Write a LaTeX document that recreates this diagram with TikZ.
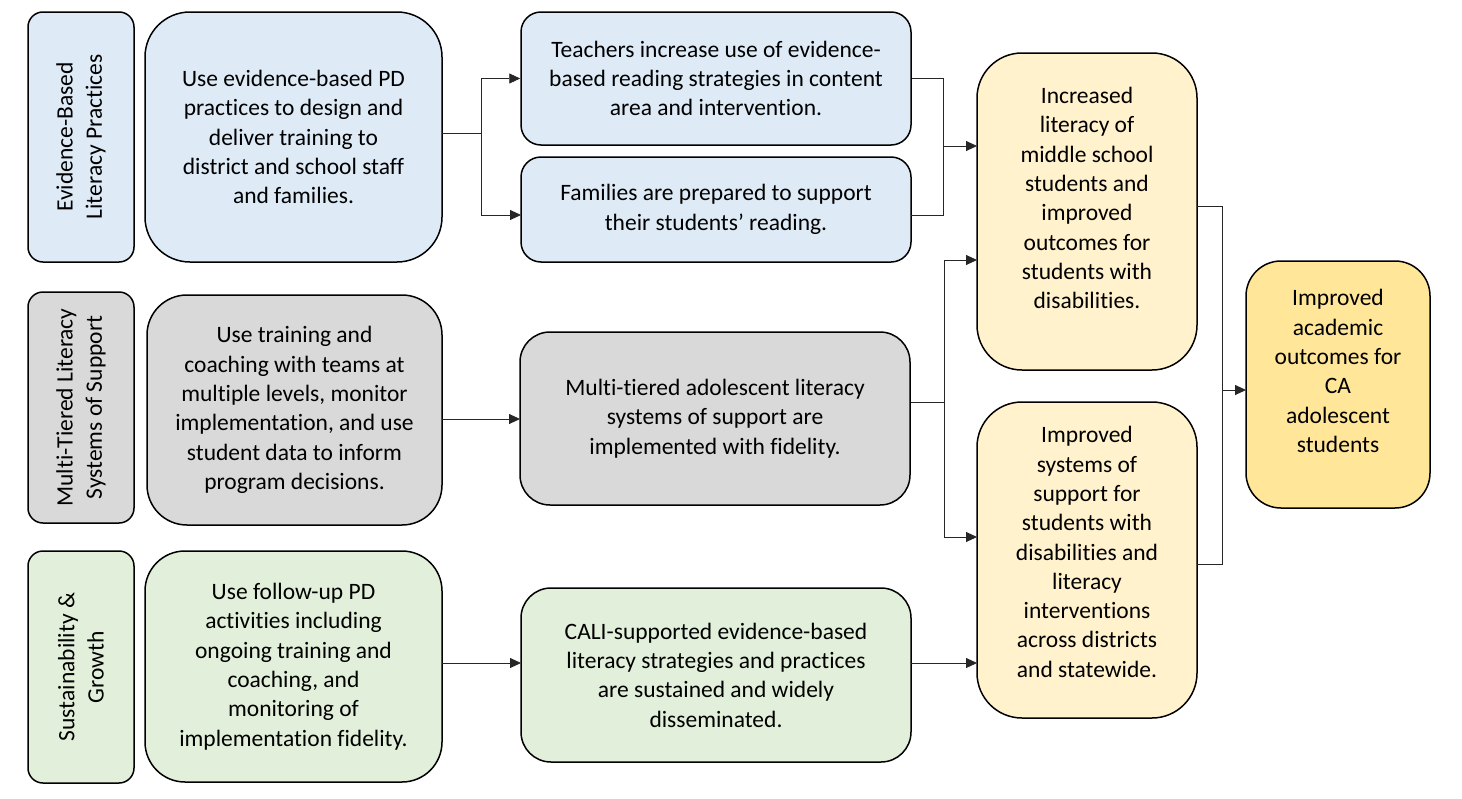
\documentclass[tikz,border=0pt]{standalone}
\usepackage{fontspec}
\setmainfont{Carlito}[Ligatures=NoCommon]
\usetikzlibrary{arrows.meta}
\definecolor{cblue}{HTML}{DEEBF7}
\definecolor{cgrey}{HTML}{D9D9D9}
\definecolor{cgreen}{HTML}{E2EFDA}
\definecolor{cyel}{HTML}{FFF2CC}
\definecolor{cgold}{HTML}{FFE699}
\tikzset{
  bx/.style={draw=black, line width=1.5pt, align=center, inner sep=0pt,
    font=\fontsize{23.5}{29.3}\selectfont},
  txt/.style={align=center, inner sep=0pt, font=\fontsize{23.5}{29.3}\selectfont},
  lbl/.style={bx, rotate=90},
  conn/.style={draw=black!85, line width=0.9pt},
  arr/.style={conn, -{Triangle[length=11pt,width=10pt]}}
}
\begin{document}
\begin{tikzpicture}[x=1pt,y=-1pt]
\useasboundingbox (0,0) rectangle (1462,798);
% left labels
\node[lbl, fill=cblue, rounded corners=15pt, minimum width=250pt, minimum height=106pt] (l1) at (81,137) {Evidence-Based\\Literacy Practices};
\node[lbl, fill=cgrey, rounded corners=15pt, minimum width=231pt, minimum height=106pt] (l2) at (81,407.5) {Multi-Tiered Literacy\\Systems of Support};
\node[lbl, fill=cgreen, rounded corners=15pt, minimum width=232pt, minimum height=106pt] (l3) at (81,667) {Sustainability \&\\Growth};
% activities
\node[bx, fill=cblue, rounded corners=45pt, minimum width=297pt, minimum height=250pt] (b1) at (293.5,137) {Use evidence-based PD\\practices to design and\\deliver training to\\district and school staff\\and families.};
\node[bx, fill=cgrey, rounded corners=40pt, minimum width=295pt, minimum height=230pt] (b2) at (294.5,410) {Use training and\\coaching with teams at\\multiple levels, monitor\\implementation, and use\\student data to inform\\program decisions.};
\node[bx, fill=cgreen, rounded corners=40pt, minimum width=297pt, minimum height=231pt] (b3) at (293.5,666.5) {Use follow-up PD\\activities including\\ongoing training and\\coaching, and\\monitoring of\\implementation fidelity.};
% outputs
\node[bx, fill=cblue, rounded corners=20pt, minimum width=390pt, minimum height=133pt] (t) at (716,78.5) {Teachers increase use of evidence-\\based reading strategies in content\\area and intervention.};
\node[bx, fill=cblue, rounded corners=20pt, minimum width=390pt, minimum height=105pt] (f) at (716,209.5) {Families are prepared to support\\their students' reading.};
\node[bx, fill=cgrey, rounded corners=30pt, minimum width=390pt, minimum height=173pt] (m) at (715,418.5) {Multi-tiered adolescent literacy\\systems of support are\\implemented with fidelity.};
\node[bx, fill=cgreen, rounded corners=30pt, minimum width=390pt, minimum height=174pt] (c) at (716,675) {CALI-supported evidence-based\\literacy strategies and practices\\are sustained and widely\\disseminated.};
% outcomes
\node[bx, fill=cyel, rounded corners=45pt, minimum width=220pt, minimum height=317pt] (i1) at (1087,211.5) {};
\node[txt] (i1t) at (1087,198) {Increased\\literacy of\\middle school\\students and\\improved\\outcomes for\\students with\\disabilities.};
\node[bx, fill=cyel, rounded corners=45pt, minimum width=220pt, minimum height=316pt] (i2) at (1087,560) {};
\node[txt] (i2t) at (1087,552) {Improved\\systems of\\support for\\students with\\disabilities and\\literacy\\interventions\\across districts\\and statewide.};
\node[bx, fill=cgold, rounded corners=35pt, minimum width=184pt, minimum height=247pt] (fin) at (1338,384.5) {};
\node[txt] (fint) at (1338,371) {Improved\\academic\\outcomes for\\CA\\adolescent\\students};
% junction coordinates
\coordinate (j1) at (481,133);
\coordinate (b1o) at (442,133);
\coordinate (fin1) at (521,215);
\coordinate (j2) at (943,146);
\coordinate (i1a) at (977,146);
\coordinate (fo) at (911,215);
\coordinate (j3) at (944,402);
\coordinate (i1b) at (977,260);
\coordinate (i2a) at (977,537);
\coordinate (i2b) at (977,663);
\coordinate (co) at (911,663);
\coordinate (mi) at (520,419);
\coordinate (b2o) at (442,419);
\coordinate (b3o) at (442,663);
\coordinate (ci) at (521,663);
\coordinate (i1o) at (1197,206);
\coordinate (i2o) at (1197,564);
\coordinate (j4) at (1222,390);
\coordinate (fini) at (1246,390);
% connectors
\draw[conn] (b1o) -- (j1);
\draw[arr] (j1) |- (t.west);
\draw[arr] (j1) |- (fin1);
\draw[conn] (t.east) -| (j2);
\draw[conn] (fo) -| (j2);
\draw[arr] (j2) -- (i1a);
\draw[conn] (m.east |- j3) -- (j3);
\draw[arr] (j3) |- (i1b);
\draw[arr] (j3) |- (i2a);
\draw[arr] (b2o) -- (mi);
\draw[arr] (b3o) -- (ci);
\draw[arr] (co) -- (i2b);
\draw[conn] (i1o) -| (j4);
\draw[conn] (i2o) -| (j4);
\draw[arr] (j4) -- (fini);
\end{tikzpicture}
\end{document}
